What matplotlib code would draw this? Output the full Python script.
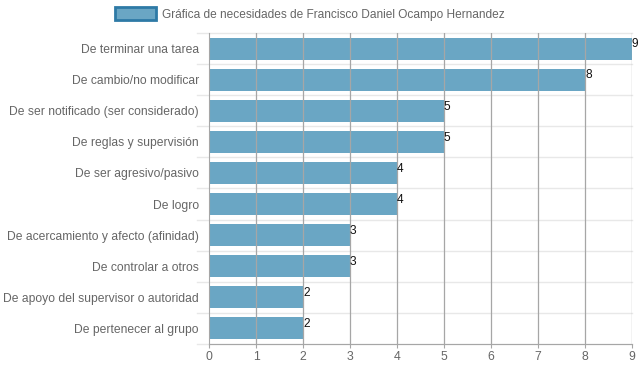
import matplotlib
matplotlib.use("Agg")
from matplotlib import pyplot as plt
from matplotlib.patches import Patch
import numpy as np

# data
categorias = ['De terminar una tarea', 'De cambio/no modificar', 'De ser notificado (ser considerado)',
              'De reglas y supervisión', 'De ser agresivo/pasivo', 'De logro',
              'De acercamiento y afecto (afinidad)', 'De controlar a otros',
              'De apoyo del supervisor o autoridad', 'De pertenecer al grupo']
valores = [9, 8, 5, 5, 4, 4, 3, 3, 2, 2]
titulo = 'Gráfica de necesidades de Francisco Daniel Ocampo Hernandez'

plt.rcParams['font.family'] = ['Liberation Sans', 'DejaVu Sans']

barColor = '#6aa6c4'
edgeColor = '#2e7aa6'
gridDark = '#a6a6a6'
gridLight = '#e8e8e8'
textColor = '#666666'

W, H = 639, 372
px = 72 / 100  # points per pixel
fig = plt.figure(figsize=(W / 100, H / 100), dpi=100)
ax = fig.add_axes([209 / W, (H - 344) / H, (632 - 209) / W, (344 - 33) / H])

n = len(categorias)
y = np.arange(n)
ax.barh(y, valores, height=0.71, color=barColor, zorder=1)
ax.set_ylim(n - 0.5, -0.5)
ax.set_xlim(0, 9)

# vertical gridlines (drawn over bars like in the original)
ax.set_xticks(range(0, 10))
for xv in range(1, 10):
    ax.axvline(xv, color=gridDark, lw=0.9, zorder=3)
# horizontal separators between categories, extended a bit to the left
for yv in np.arange(-0.5, n, 1.0):
    ax.plot([-12 * 9 / 423, 9], [yv, yv], color=gridLight, lw=1, zorder=0, clip_on=False)

ax.set_yticks(y)
ax.set_yticklabels(categorias)
ax.tick_params(axis='y', length=0, labelsize=8.7, labelcolor=textColor, pad=10 * px)
ax.tick_params(axis='x', length=4 * px, color=gridDark, labelsize=8.8, labelcolor=textColor, pad=3 * px)

for s in ['top', 'right']:
    ax.spines[s].set_visible(False)
ax.spines['left'].set_color(gridDark)
ax.spines['bottom'].set_color(gridDark)
ax.spines['left'].set_zorder(3)

# value labels at the end of each bar
for yi, v in zip(y, valores):
    ax.annotate(str(v), (v, yi), xytext=(0, 3), textcoords='offset points',
                ha='left', va='center', fontsize=8.6, color='#111111', zorder=4)

# legend at top
handle = Patch(facecolor=barColor, edgecolor=edgeColor, linewidth=2)
fig.legend([handle], [titulo], loc='center', bbox_to_anchor=(310 / W, 1 - 14 / H),
           frameon=False, fontsize=8.6, labelcolor=textColor, handlelength=3.4,
           handleheight=1.3, handletextpad=0.55)

fig.savefig('out.png', dpi=100)
